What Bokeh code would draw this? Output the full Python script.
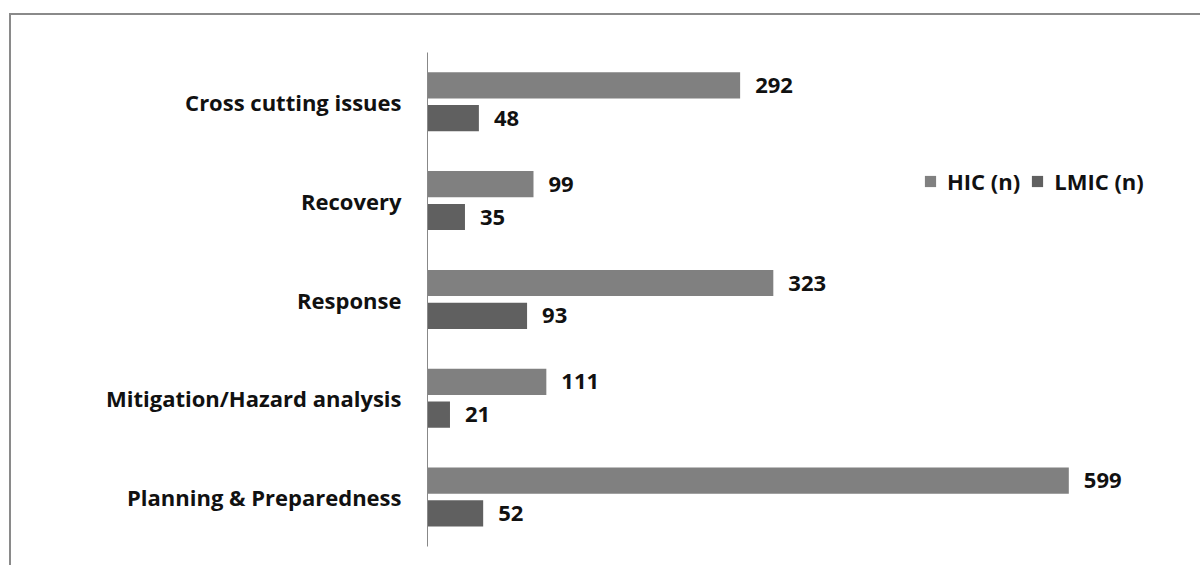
from bokeh.plotting import figure
from bokeh.models import ColumnDataSource, FactorRange, Legend, LegendItem
from bokeh.transform import dodge
from bokeh.core.properties import value
from bokeh.embed import file_html
from bokeh.resources import INLINE

# Categories listed bottom to top
categories = [
    "Planning & Preparedness",
    "Mitigation/Hazard analysis",
    "Response",
    "Recovery",
    "Cross cutting issues",
]
hic_n = [599, 111, 323, 99, 292]
lmic_n = [52, 21, 93, 35, 48]
series_labels = ["HIC (n)", "LMIC (n)"]

HIC_COLOR = "#808080"
LMIC_COLOR = "#606060"
FONT = "Open Sans"

src = ColumnDataSource(dict(
    cat=categories,
    hic=hic_n,
    lmic=lmic_n,
    hic_txt=[str(v) for v in hic_n],
    lmic_txt=[str(v) for v in lmic_n],
))

p = figure(
    y_range=FactorRange(factors=categories, range_padding=0),
    x_range=(0, 722),
    width=1189, height=550,
    output_backend="svg",
    toolbar_location=None,
    x_axis_location=None,
    min_border_left=416, min_border_right=0,
    min_border_top=37, min_border_bottom=19,
    outline_line_color=None,
)
p.margin = (15, 0, 0, 11)
p.styles = {"outline": "2px solid #8a8a8a"}

r_hic = p.hbar(y=dodge("cat", 0.167, range=p.y_range), left=0, right="hic",
               height=0.265, fill_color=HIC_COLOR, line_color=None, source=src)
r_lmic = p.hbar(y=dodge("cat", -0.165, range=p.y_range), left=0, right="lmic",
                height=0.265, fill_color=LMIC_COLOR, line_color=None, source=src)

for col, off in (("hic", 0.167), ("lmic", -0.165)):
    p.text(x=col, y=dodge("cat", off, range=p.y_range), text=col + "_txt",
           x_offset=15, text_baseline="middle", text_align="left",
           text_font=value(FONT), text_font_style="bold",
           text_font_size="22px", text_color="#111111", source=src)

legend = Legend(
    items=[LegendItem(label=series_labels[0], renderers=[r_hic]),
           LegendItem(label=series_labels[1], renderers=[r_lmic])],
    orientation="horizontal",
    location=(496, 350),
    glyph_width=14, glyph_height=14,
    label_standoff=10, spacing=10, padding=0, margin=0,
    border_line_color=None, background_fill_alpha=0,
    label_text_font=FONT, label_text_font_style="bold",
    label_text_font_size="22px", label_text_color="#111111",
)
p.add_layout(legend)

p.yaxis.axis_line_color = "#888888"
p.yaxis.major_tick_line_color = None
p.yaxis.minor_tick_line_color = None
p.yaxis.major_label_standoff = 20
p.yaxis.major_label_text_font = FONT
p.yaxis.major_label_text_font_style = "bold"
p.yaxis.major_label_text_font_size = "22px"
p.yaxis.major_label_text_color = "#111111"
p.xgrid.grid_line_color = None
p.ygrid.grid_line_color = None

open("out.html", "w").write(file_html(p, INLINE))
